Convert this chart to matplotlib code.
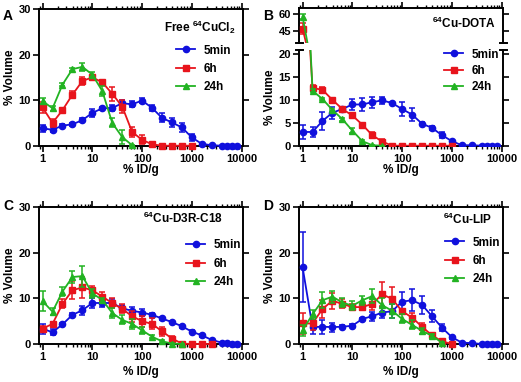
import matplotlib
matplotlib.use("Agg")
import matplotlib.pyplot as plt
from matplotlib.ticker import FixedLocator, LogLocator, NullFormatter, FixedFormatter

plt.rcParams['font.family'] = ['Liberation Sans', 'DejaVu Sans']
plt.rcParams['font.weight'] = 'bold'
plt.rcParams['axes.labelweight'] = 'bold'
plt.rcParams['mathtext.fontset'] = 'custom'
plt.rcParams['mathtext.rm'] = 'Liberation Sans:bold'
plt.rcParams['mathtext.bf'] = 'Liberation Sans:bold'
plt.rcParams['mathtext.default'] = 'bf'

# ---------------- data ----------------
x_bins = [1, 1.585, 2.512, 3.981, 6.31, 10, 15.85, 25.12, 39.81, 63.1, 100, 158.5,
          251.2, 398.1, 631, 1000, 1585, 2512, 3981, 5012, 6310, 7943]
series_labels = ["5min", "6h", "24h"]
x_ticks = [1, 10, 100, 1000, 10000]
x_tick_labels = ["1", "10", "100", "1000", "10000"]

# Panel A  (Free 64CuCl2)
a_5min = [3.8, 3.5, 4.4, 4.7, 5.6, 7.2, 8.2, 8.3, 9.3, 9.1, 9.9, 8.3, 6.1, 5.1, 4.0, 1.8, 0.4, 0.1, 0, 0, 0, 0]
a_5min_err = [0.8, 0.6, 0.3, 0.3, 0.4, 0.8, 0.4, 0.7, 0.8, 0.7, 0.6, 0.7, 1.0, 1.0, 1.0, 0.7, 0.2, 0.1, 0, 0, 0, 0]
a_6h = [8.4, 5.0, 7.8, 11.2, 14.2, 15.0, 13.9, 11.4, 8.6, 3.0, 1.3, 0.3, 0, 0, 0, 0]
a_6h_err = [1.2, 0.8, 0.4, 0.7, 0.8, 0.6, 0.6, 1.5, 1.5, 1.0, 1.0, 0.2, 0, 0, 0, 0]
a_24h = [9.8, 8.2, 13.4, 16.8, 17.3, 15.6, 12.0, 5.0, 1.9, 0.1]
a_24h_err = [0.7, 0.5, 0.3, 0.3, 0.8, 0.5, 1.0, 1.0, 1.5, 0.1]

# Panel B  (64Cu-DOTA)
b_5min = [3.0, 3.0, 5.4, 7.2, 8.0, 9.0, 9.0, 9.5, 9.9, 9.3, 8.0, 6.8, 4.8, 3.9, 2.3, 1.0, 0.1, 0.1, 0, 0, 0, 0]
b_5min_err = [1.5, 1.0, 2.0, 1.3, 0.3, 1.2, 1.5, 1.2, 0.8, 0.3, 1.5, 1.5, 0.3, 0.4, 0.7, 0.3, 0.1, 0.1, 0, 0, 0, 0]
b_6h = [47.4, 12.6, 12.2, 10.0, 8.0, 6.6, 4.6, 2.3, 0.9, 0, 0, 0, 0, 0, 0, 0]
b_6h_err = [4.4, 0.7, 0.6, 0.3, 0.3, 0.3, 0.3, 0.6, 0.5, 0, 0, 0, 0, 0, 0, 0]
b_24h = [57.6, 12.0, 10.2, 7.8, 5.8, 3.3, 1.0, 0.1, 0]
b_24h_err = [2.0, 0.3, 0.3, 0.3, 0.3, 0.6, 0.3, 0.1, 0]

# Panel C  (64Cu-D3R-C18)
c_5min = [3.3, 2.6, 4.3, 6.4, 7.4, 9.0, 9.0, 9.0, 7.8, 7.3, 6.9, 6.4, 5.6, 4.8, 3.9, 2.7, 1.9, 0.9, 0.3, 0.2, 0.1, 0]
c_5min_err = [1.0, 0.6, 0.3, 0.5, 1.0, 1.0, 0.8, 0.8, 0.8, 0.8, 0.8, 0.3, 0.3, 0.3, 0.3, 0.3, 0.3, 0.3, 0.1, 0.1, 0.1, 0]
c_6h = [3.4, 4.4, 8.8, 11.8, 12.4, 11.8, 10.4, 9.0, 7.7, 6.1, 5.0, 4.4, 2.8, 1.2, 0.1, 0, 0, 0]
c_6h_err = [0.5, 0.4, 1.0, 2.0, 2.2, 1.0, 1.0, 1.2, 1.0, 1.2, 1.2, 1.2, 1.0, 0.5, 0.1, 0, 0, 0]
c_24h = [9.4, 7.1, 11.5, 14.7, 14.9, 11.1, 9.7, 6.8, 5.3, 4.4, 3.0, 1.6, 0.6, 0.1, 0]
c_24h_err = [2.2, 0.8, 1.0, 1.3, 2.3, 1.0, 0.5, 1.0, 1.0, 1.0, 0.7, 0.3, 0.2, 0.1, 0]

# Panel D  (64Cu-LIP)
d_5min = [16.9, 3.7, 3.8, 3.7, 3.8, 4.0, 5.5, 6.1, 6.9, 7.2, 9.3, 9.6, 8.6, 6.1, 3.6, 1.5, 0.3, 0.2, 0, 0, 0, 0]
d_5min_err = [7.7, 1.6, 1.5, 1.0, 0.3, 0.3, 0.3, 1.0, 1.3, 1.5, 2.2, 2.4, 2.0, 1.3, 0.7, 0.3, 0.1, 0.1, 0, 0, 0, 0]
d_6h = [4.5, 4.5, 7.7, 9.5, 8.8, 8.1, 8.1, 8.8, 10.9, 9.9, 7.2, 5.8, 3.8, 1.9, 0.6, 0]
d_6h_err = [2.3, 1.5, 2.0, 1.8, 1.0, 0.6, 0.7, 1.3, 2.6, 2.5, 0.4, 1.0, 0.8, 0.5, 0.2, 0]
d_24h = [3.0, 6.5, 9.6, 10.4, 9.1, 8.4, 9.6, 10.5, 8.5, 7.3, 5.5, 4.2, 2.9, 1.8, 0.3]
d_24h_err = [1.2, 1.0, 1.8, 1.3, 1.0, 1.0, 1.0, 1.5, 1.5, 1.5, 1.0, 1.0, 0.7, 0.5, 0.2]

panel_titles = [r"Free $^{64}$CuCl$_2$", r"$^{64}$Cu-DOTA", r"$^{64}$Cu-D3R-C18", r"$^{64}$Cu-LIP"]
panel_letters = ["A", "B", "C", "D"]

colors = ["#1010DD", "#E8141C", "#22B322"]
markers = ["o", "s", "^"]

W, H = 521, 382
fig = plt.figure(figsize=(W / 100, H / 100), dpi=100)

def fx(px):
    return px / W

def fy(py):
    return 1 - py / H

def rect(l, t, r, b):
    return [fx(l), fy(b), fx(r) - fx(l), (b - t) / H]

def style_axes(ax, show_xlabels=True):
    ax.set_xscale("log")
    ax.set_xlim(0.86, 10800)
    ax.xaxis.set_major_locator(FixedLocator(x_ticks))
    ax.xaxis.set_major_formatter(FixedFormatter(x_tick_labels))
    ax.xaxis.set_minor_locator(LogLocator(base=10, subs=range(2, 10), numticks=20))
    ax.xaxis.set_minor_formatter(NullFormatter())
    ax.tick_params(which="major", direction="out", length=4, width=1.2, labelsize=8,
                   top=True, right=True, pad=2)
    ax.tick_params(which="minor", direction="out", length=2.5, width=1.0, top=True)
    for s in ax.spines.values():
        s.set_linewidth(1.4)
    if not show_xlabels:
        ax.tick_params(axis="x", which="both", labelbottom=False)
    for lab in ax.get_xticklabels() + ax.get_yticklabels():
        lab.set_fontweight("bold")

def draw_series(ax, data, errs, clip=True):
    handles = []
    for i, (y, e) in enumerate(zip(data, errs)):
        xs = x_bins[:len(y)]
        h = ax.errorbar(xs, y, yerr=e, color=colors[i], marker=markers[i], markersize=4.5,
                        linewidth=1.3, elinewidth=1.1, capsize=2.4, capthick=1.1,
                        label=series_labels[i], zorder=3 + i, clip_on=clip)
        handles.append(h)
    return handles

def add_legend(ax, handles, right_px, top_px, spacing=0.55):
    leg = ax.legend(handles=[h[0] for h in handles], labels=series_labels,
                    loc="upper right", bbox_to_anchor=(fx(right_px), fy(top_px)),
                    bbox_transform=fig.transFigure, frameon=False, fontsize=8.5,
                    handlelength=1.6, handletextpad=0.7, labelspacing=spacing,
                    borderpad=0, borderaxespad=0, markerscale=1.0)
    for t in leg.get_texts():
        t.set_fontweight("bold")

# ---------------- Panel A ----------------
axA = fig.add_axes(rect(39.3, 9, 243.3, 145.7))
hA = draw_series(axA, [a_5min, a_6h, a_24h], [a_5min_err, a_6h_err, a_24h_err], clip=False)
axA.set_ylim(0, 30)
axA.set_yticks([0, 10, 20, 30])
style_axes(axA)
axA.set_ylabel("% Volume", fontsize=8.5, labelpad=1.5)
axA.set_xlabel("% ID/g", fontsize=8.5, labelpad=0)
add_legend(axA, hA, 231, 44.5)
fig.text(fx(236), fy(27), panel_titles[0], ha="right", va="center", fontsize=8.5, fontweight="bold")

# ---------------- Panel B (broken axis) ----------------
axBt = fig.add_axes(rect(299.3, 8, 503.3, 43))
axBb = fig.add_axes(rect(299.3, 49.5, 503.3, 145.7))
b_data = [b_5min, b_6h, b_24h]
b_errs = [b_5min_err, b_6h_err, b_24h_err]
draw_series(axBt, b_data, b_errs, clip=True)
hB = draw_series(axBb, b_data, b_errs, clip=True)
axBt.set_ylim(35, 65)
axBt.set_yticks([45, 60])
axBb.set_ylim(0, 21)
axBb.set_yticks([0, 5, 10, 15, 20])
style_axes(axBt, show_xlabels=False)
style_axes(axBb)
axBt.spines["bottom"].set_visible(False)
axBt.tick_params(axis="x", which="both", bottom=False)
axBb.spines["top"].set_visible(False)
axBb.tick_params(axis="x", which="both", top=False)
# break caps
cap = 3.2 / 204
for ax_, yv in ((axBt, 0), (axBb, 1)):
    for xv in (0, 1):
        ax_.plot([xv - cap, xv + cap], [yv, yv], transform=ax_.transAxes, color="black",
                 linewidth=1.4, clip_on=False)
axBb.set_ylabel("% Volume", fontsize=8.5, labelpad=1.5)
axBb.set_xlabel("% ID/g", fontsize=8.5, labelpad=0)
add_legend(axBb, hB, 499, 48.5, spacing=0.38)
fig.text(fx(496), fy(23), panel_titles[1], ha="right", va="center", fontsize=8.5, fontweight="bold")

# ---------------- Panel C ----------------
axC = fig.add_axes(rect(39.3, 207.3, 243.3, 344))
hC = draw_series(axC, [c_5min, c_6h, c_24h], [c_5min_err, c_6h_err, c_24h_err], clip=False)
axC.set_ylim(0, 30)
axC.set_yticks([0, 10, 20, 30])
style_axes(axC)
axC.set_ylabel("% Volume", fontsize=8.5, labelpad=1.5)
axC.set_xlabel("% ID/g", fontsize=8.5, labelpad=3)
add_legend(axC, hC, 241, 239.5)
fig.text(fx(223), fy(218), panel_titles[2], ha="right", va="center", fontsize=8.5, fontweight="bold")

# ---------------- Panel D ----------------
axD = fig.add_axes(rect(299.3, 207.3, 503.3, 344))
hD = draw_series(axD, [d_5min, d_6h, d_24h], [d_5min_err, d_6h_err, d_24h_err], clip=False)
axD.set_ylim(0, 30)
axD.set_yticks([0, 10, 20, 30])
style_axes(axD)
axD.set_ylabel("% Volume", fontsize=8.5, labelpad=1.5)
axD.set_xlabel("% ID/g", fontsize=8.5, labelpad=3)
add_legend(axD, hD, 500, 236.5)
fig.text(fx(492), fy(219), panel_titles[3], ha="right", va="center", fontsize=8.5, fontweight="bold")

# panel letters
for letter, (px, py) in zip(panel_letters, [(3, 16), (263, 16), (3, 206), (263, 206)]):
    fig.text(fx(px), fy(py), letter, ha="left", va="center", fontsize=10, fontweight="bold")

fig.savefig("out.png", dpi=100)
